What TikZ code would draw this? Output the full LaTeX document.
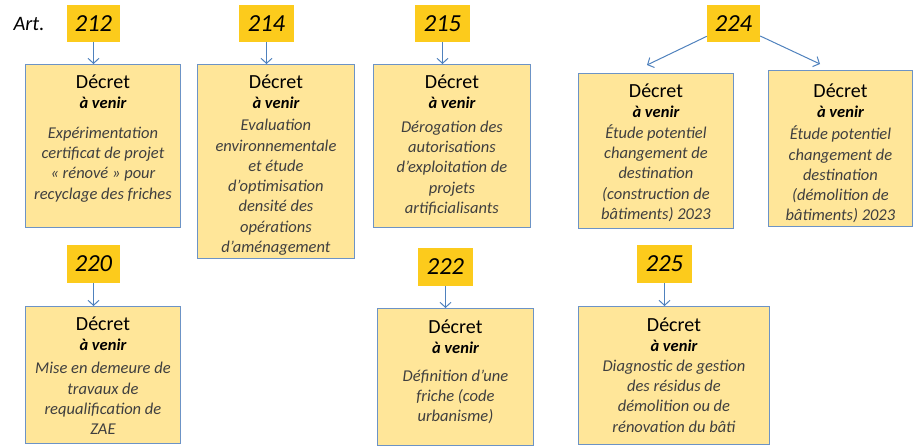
\documentclass[tikz,border=0pt]{standalone}
\usepackage{fontspec}
\setmainfont{Carlito}
\usetikzlibrary{arrows.meta}

\definecolor{boxfill}{HTML}{FFE699}
\definecolor{boxline}{HTML}{6C93C6}
\definecolor{numfill}{HTML}{FCCB1C}
\definecolor{arrowblue}{HTML}{4F81BD}
\definecolor{desctext}{HTML}{3F3F3F}

% Body of a decree box: width, height, first baseline, extra gap, description lines
\newcommand\decretbody[5]{%
  \parbox[t][#2][t]{#1}{\centering
    \rule{0pt}{#3}{\fontsize{20}{24}\selectfont D\'ecret}\par
    {\fontsize{16.5}{20.5}\selectfont\bfseries\itshape \`a venir\par}%
    \vspace{#4}%
    {\color{desctext}\fontsize{16.5}{20.3}\selectfont\itshape #5\par}}}

\tikzset{
  decret/.style={draw=boxline, fill=boxfill, line width=0.9pt, inner sep=0pt, anchor=north west},
  artnum/.style={fill=numfill, inner sep=0pt, minimum width=55pt, minimum height=37pt,
                 font=\fontsize{24.5}{24.5}\selectfont\itshape},
  arr/.style={draw=arrowblue, line width=1pt, -{Straight Barb[length=5pt,width=11pt]}}
}

\begin{document}
\begin{tikzpicture}[x=1pt,y=-1pt]
\useasboundingbox (0,0) rectangle (913,445);

\node[font=\fontsize{20.5}{20.5}\selectfont\itshape] (art) at (29,24) {Art.};

% article numbers
\node[artnum, minimum width=53pt] (n212) at (93.5,23.5) {212};
\node[artnum] (n214) at (266.5,23.5) {214};
\node[artnum] (n215) at (442.5,23.5) {215};
\node[artnum, minimum width=53pt] (n224) at (733.5,23.5) {224};
\node[artnum, minimum width=53pt, minimum height=38pt] (n220) at (93.5,264) {220};
\node[artnum, minimum height=38pt] (n222) at (445.5,267) {222};
\node[artnum, minimum height=38pt] (n225) at (664.5,264) {225};

% decree boxes
\node[decret] (b212) at (25,64) {\decretbody{155pt}{163pt}{24pt}{9pt}{%
  Exp\'erimentation\\ certificat de projet\\ «~r\'enov\'e~» pour\\ recyclage des friches}};
\node[decret] (b214) at (197,64) {\decretbody{157pt}{194pt}{24pt}{1.5pt}{%
  Evaluation\\ environnementale\\ et \'etude\\ d’optimisation\\ densit\'e des\\ op\'erations\\ d’am\'enagement}};
\node[decret] (b215) at (373,64) {\decretbody{157pt}{163pt}{24pt}{3pt}{%
  D\'erogation des\\ autorisations\\ d’exploitation de\\ projets\\ artificialisants}};
\node[decret] (b224a) at (578,73) {\decretbody{155pt}{155pt}{24pt}{0pt}{%
  \'Etude potentiel\\ changement de\\ destination\\ (construction de\\ b\^atiments) 2023}};
\node[decret] (b224b) at (768,70) {\decretbody{144pt}{156pt}{27pt}{1.5pt}{%
  \'Etude potentiel\\ changement de\\ destination\\ (d\'emolition de\\ b\^atiments) 2023}};
\node[decret] (b220) at (25,306) {\decretbody{155pt}{137pt}{24pt}{2.5pt}{%
  Mise en demeure de\\ travaux de\\ requalification de\\ ZAE}};
\node[decret] (b222) at (377,308) {\decretbody{156pt}{137pt}{25pt}{7pt}{%
  D\'efinition d’une\\ friche (code\\ urbanisme)}};
\node[decret] (b225) at (578,306) {\decretbody{191pt}{138pt}{25pt}{-1pt}{%
  Diagnostic de gestion\\ des r\'esidus de\\ d\'emolition ou de\\ r\'enovation du b\^ati}};

% connectors
\draw[arr] (n212) -- (n212 |- b212.north);
\draw[arr] (n214) -- (n214 |- b214.north);
\draw[arr] (n215) -- (n215 |- b215.north);
\draw[arr] (n220) -- (n220 |- b220.north);
\draw[arr] (n222) -- (n222 |- b222.north);
\draw[arr] (n225) -- (n225 |- b225.north);

\coordinate (t224a) at (647,65);
\coordinate (t224b) at (820,64);
\draw[arr] (n224) -- (t224a);
\draw[arr] (n224) -- (t224b);
\end{tikzpicture}
\end{document}
